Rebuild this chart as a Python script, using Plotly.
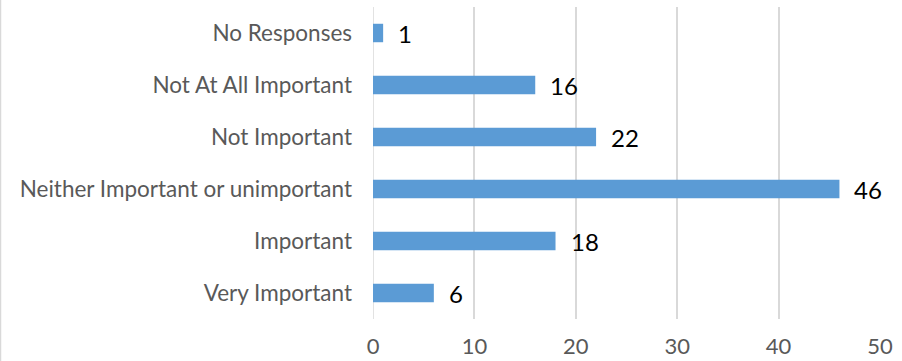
import plotly.graph_objects as go

categories = ["Very Important", "Important", "Neither Important or unimportant",
              "Not Important", "Not At All Important", "No Responses"]
counts = [6, 18, 46, 22, 16, 1]
x_ticks = [0, 10, 20, 30, 40, 50]

W, H = 902, 361
ML, MR, MT, MB = 373, 22, 7, 42

fig = go.Figure(go.Bar(
    x=counts, y=categories, orientation="h",
    marker=dict(color="#5B9BD5", line=dict(width=0)),
    width=0.355,
))

for v, c in zip(counts, categories):
    fig.add_annotation(x=v, y=c, text=str(v), showarrow=False,
                       xanchor="left", xshift=13,
                       font=dict(family="Lato", size=24, color="#000000"))

# thin frame line on the left edge of the canvas
pw = W - ML - MR
ph = H - MT - MB
x0 = (0.5 - ML) / pw
fig.add_shape(type="line", xref="paper", yref="paper",
              x0=x0, x1=x0, y0=-MB / ph, y1=1 + MT / ph,
              line=dict(color="#D9D9D9", width=1.5))

fig.update_layout(
    width=W, height=H,
    margin=dict(l=ML, r=MR, t=MT, b=MB, autoexpand=False),
    paper_bgcolor="white", plot_bgcolor="white",
    showlegend=False,
    font=dict(family="Lato", color="#595959", size=22),
    xaxis=dict(range=[0, 50], tickvals=x_ticks, showgrid=True,
               gridcolor="#D9D9D9", gridwidth=1.5, zeroline=False,
               showline=False, ticks="", ticklabelstandoff=12,
               automargin=False,
               tickfont=dict(size=22, color="#595959")),
    yaxis=dict(categoryorder="array", categoryarray=categories,
               range=[-0.5, 5.5], showgrid=False, zeroline=False,
               showline=False, ticks="", ticklabelstandoff=20,
               automargin=False,
               tickfont=dict(size=22.5, color="#595959")),
)
fig.add_shape(type="line", xref="x", yref="paper", x0=0, x1=0, y0=0, y1=1,
              line=dict(color="#D9D9D9", width=1.5), layer="below")

fig.write_html("out.html")
